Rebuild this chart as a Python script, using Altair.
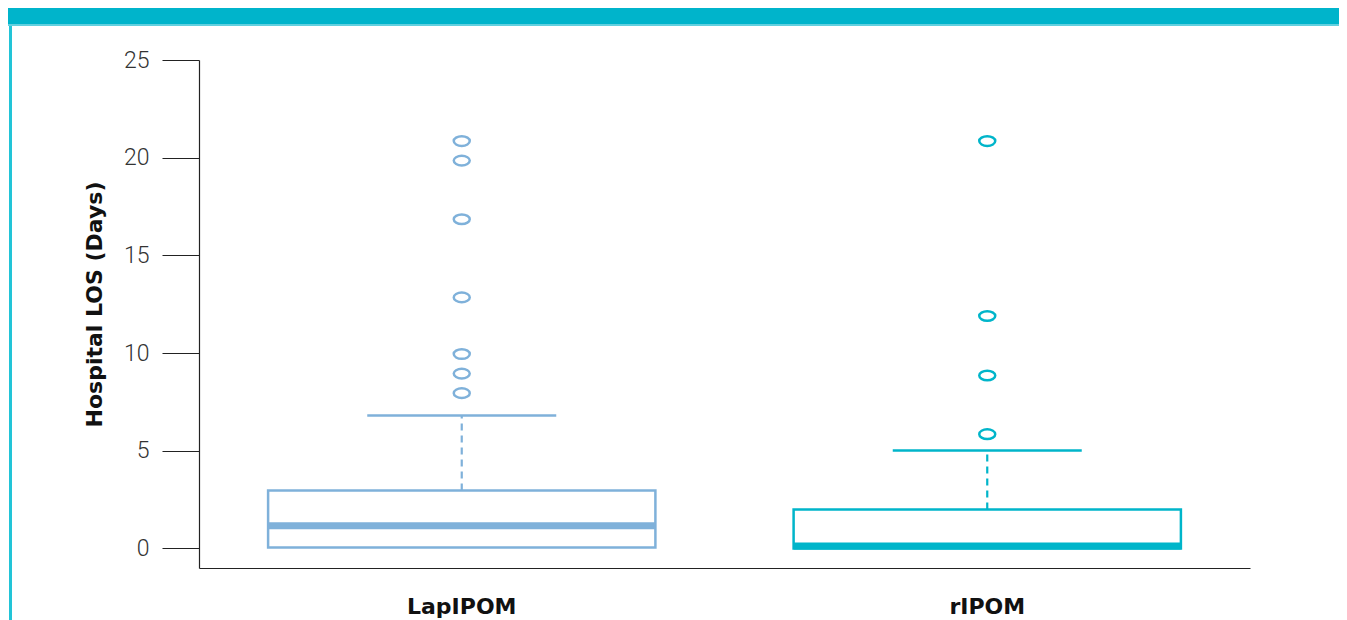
import altair as alt
import pandas as pd

# ---- data ----
groups = ["LapIPOM", "rIPOM"]
q1 = [0.05, 0.0]
median = [1.16, 0.12]
q3 = [2.97, 2.0]
whisker_hi = [6.8, 5.02]

out_group = ["LapIPOM"] * 7 + ["rIPOM"] * 4
out_value = [20.85, 19.85, 16.85, 12.85, 9.95, 8.95, 7.95,
             20.85, 11.9, 8.85, 5.85]

colors = ["#7fb1da", "#00b5ca"]

stats = pd.DataFrame({"group": groups, "q1": q1, "median": median,
                      "q3": q3, "hi": whisker_hi})
outliers = pd.DataFrame({"group": out_group, "value": out_value})

W, H = 1051, 508

xenc = alt.X("group:N", sort=groups,
             scale=alt.Scale(domain=groups, paddingInner=0.0, paddingOuter=0.0),
             axis=alt.Axis(title=None, ticks=False, labelFont="DejaVu Sans",
                           labelFontWeight="bold", labelFontSize=22, labelColor="#111",
                           labelPadding=28, domainColor="#222", domainWidth=1.2,
                           labelAngle=0))
yscale = alt.Scale(domain=[-1, 25], nice=False, zero=False)
col = alt.Color("group:N", scale=alt.Scale(domain=groups, range=colors), legend=None)

box = alt.Chart(stats).mark_bar(width=alt.RelativeBandSize(0.737), fill="white",
                                strokeWidth=2.5).encode(
    x=xenc,
    y=alt.Y("q1:Q", scale=yscale,
            axis=alt.Axis(values=[0, 5, 10, 15, 20, 25], tickSize=37, tickColor="#222",
                          tickWidth=1.2, domainColor="#222", domainWidth=1.2,
                          labelFont="Roboto", labelFontWeight=300, labelFontSize=23,
                          labelColor="#333", labelPadding=13, grid=False,
                          title="Hospital LOS (Days)", titleFont="DejaVu Sans",
                          titleFontWeight="bold", titleFontSize=22, titleColor="#111",
                          titleX=-105, titleY=244, titleAngle=270,
                          titleAlign="center", titleBaseline="middle")),
    y2="q3:Q",
    stroke=alt.Stroke("group:N", scale=alt.Scale(domain=groups, range=colors), legend=None),
)

med = alt.Chart(stats).mark_tick(thickness=7, size=387, opacity=1).encode(
    x=alt.X("group:N", sort=groups), y=alt.Y("median:Q", scale=yscale), color=col)

whisk = alt.Chart(stats).mark_rule(strokeWidth=2.2, strokeDash=[7, 5]).encode(
    x=alt.X("group:N", sort=groups), y=alt.Y("q3:Q", scale=yscale), y2="hi:Q", color=col)

cap = alt.Chart(stats).mark_tick(thickness=2.5, size=189, opacity=1).encode(
    x=alt.X("group:N", sort=groups), y=alt.Y("hi:Q", scale=yscale), color=col)

ellipse = "M -1 0 A 1 0.6 0 1 1 1 0 A 1 0.6 0 1 1 -1 0 Z"
pts = alt.Chart(outliers).mark_point(shape=ellipse, size=256, filled=False,
                                     strokeWidth=2.5, opacity=1).encode(
    x=alt.X("group:N", sort=groups), y=alt.Y("value:Q", scale=yscale), color=col)

# decorative frame (banner at top, thin rule on the left)
banner = alt.Chart(pd.DataFrame({"a": [0]})).mark_rect(color="#00b4cb").encode(
    x=alt.value(-191), x2=alt.value(1140), y=alt.value(-52), y2=alt.value(-36))
banner_line = alt.Chart(pd.DataFrame({"a": [0]})).mark_rect(color="#62d0df").encode(
    x=alt.value(-191), x2=alt.value(1140), y=alt.value(-36), y2=alt.value(-34))
left_line = alt.Chart(pd.DataFrame({"a": [0]})).mark_rect(color="#22c4d7").encode(
    x=alt.value(-190), x2=alt.value(-187), y=alt.value(-34), y2=alt.value(576))

chart = alt.layer(banner, banner_line, left_line, box, whisk, cap, med, pts).properties(
    width=W, height=H,
    padding={"left": 191, "top": 52, "right": 89, "bottom": 56},
    autosize=alt.AutoSizeParams(type="none"),
    background="white",
).configure_view(strokeWidth=0, stroke="transparent")

chart.save("out.html", embed_options={"renderer": "svg", "actions": False})
